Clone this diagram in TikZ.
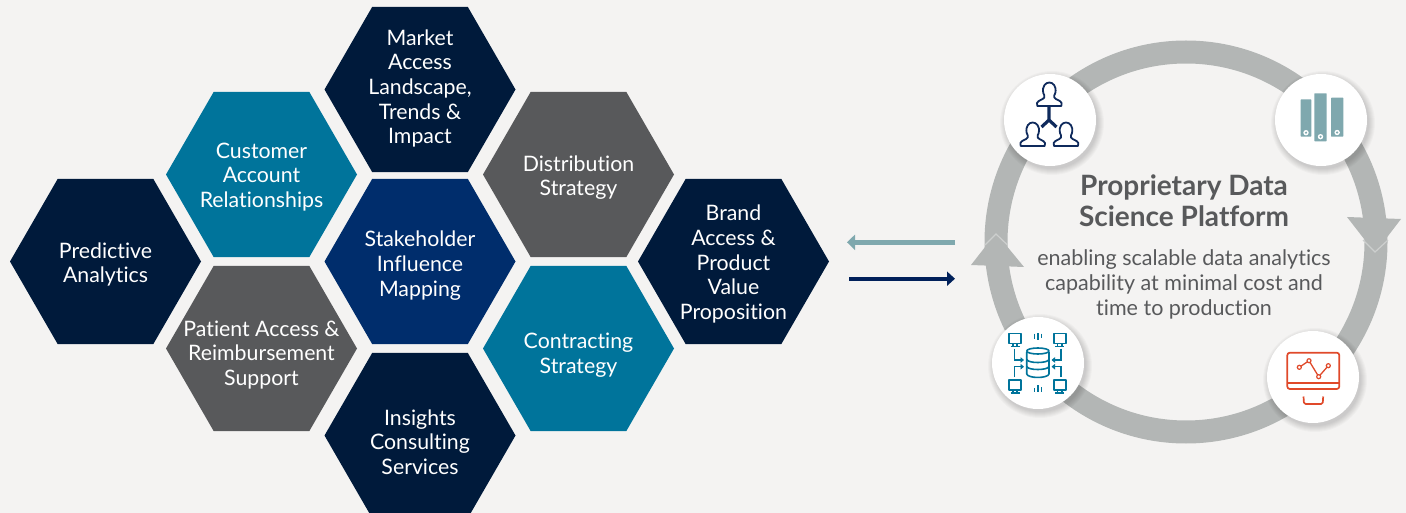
\documentclass[tikz,border=0pt]{standalone}
\usepackage{fontspec}
\setmainfont{Lato}[Ligatures=CommonOff]
\usetikzlibrary{shapes.geometric,arrows.meta}
\definecolor{bgc}{HTML}{F4F3F2}
\definecolor{navy}{HTML}{001A3B}
\definecolor{midblue}{HTML}{002D6C}
\definecolor{arrownavy}{HTML}{00205A}
\definecolor{tealc}{HTML}{00749B}
\definecolor{greyc}{HTML}{58595B}
\definecolor{ringc}{HTML}{B3B6B5}
\definecolor{ringl}{HTML}{CDCFCE}
\definecolor{paleteal}{HTML}{7FA8AE}
\definecolor{iconnavy}{HTML}{0F2A5C}
\definecolor{iconred}{HTML}{E0492A}
\definecolor{textgrey}{HTML}{58595B}
\tikzset{
  hexa/.style={regular polygon,regular polygon sides=6,minimum size=191pt,inner sep=0pt,outer sep=0pt},
  hextext/.style={text=white,font=\fontsize{21.3}{24.7}\selectfont,align=center,inner sep=0pt},
  disc/.style={circle,fill=white,minimum size=92pt,inner sep=0pt,outer sep=0pt},
  shade1/.style={fill=black,opacity=.022},
  title/.style={text=textgrey,font=\fontsize{28}{31}\selectfont\bfseries,align=center,inner sep=0pt},
  body/.style={text=textgrey,font=\fontsize{21.5}{24.8}\selectfont,align=center,inner sep=0pt},
  person/.style={draw=iconnavy,line width=1.8pt,line join=round,fill=white},
  dbline/.style={draw=tealc,line width=1.6pt,line join=round},
  redline/.style={draw=iconred,line width=1.7pt,line join=round}
}
\newcommand{\personicon}[2]{%
  \path[person,shift={(#1,#2)}] (-12,0) -- (12,0) -- (12.3,-3) .. controls (11,-6) and (6.5,-6) .. (5,-8.5)
   .. controls (4.6,-10) and (5,-11) .. (6,-13) .. controls (7.5,-20) and (3.5,-23.5) .. (0,-23.5)
   .. controls (-3.5,-23.5) and (-7.5,-20) .. (-6,-13) .. controls (-5,-11) and (-4.6,-10) .. (-5,-8.5)
   .. controls (-6.5,-6) and (-11,-6) .. (-12.3,-3) -- cycle;}
\newcommand{\bookicon}[5]{%
  \fill[paleteal,rounded corners=.6pt] (#1,#2) rectangle (#3,#4);
  \fill[white] ({(#1+#3)/2},#5) circle (2.7pt);
  \fill[paleteal] ({(#1+#3)/2},#5) circle (1.2pt);}
\newcommand{\screenicon}[2]{%
  \path[dbline,shift={(#1,#2)}] (-6,-5) rectangle (6,5);
  \path[dbline,shift={(#1,#2)}] (-2.2,5) -- (-2.2,8) (2.2,5) -- (2.2,8) (-4.5,8) -- (4.5,8);}
\begin{document}
\begin{tikzpicture}[x=1pt,y=-1pt]
\useasboundingbox (0,0) rectangle (1406,513);
\clip (0,0) rectangle (1406,513);
\fill[bgc] (0,0) rectangle (1406,513);

% hexagons
\node[hexa,fill=navy,label={[hextext,yshift=-3pt]center:Predictive\\Analytics}] (predictive) at (105.5,261.5) {};
\node[hexa,fill=tealc,label={[hextext,yshift=-2.5pt]center:Customer\\Account\\Relationships}] (customer) at (261.5,174.5) {};
\node[hexa,fill=greyc,label={[hextext,yshift=-6.5pt]center:Patient Access \&\\Reimbursement\\Support}] (patient) at (261.5,348.5) {};
\node[hexa,fill=navy,label={[hextext,yshift=1pt]center:Market\\Access\\Landscape,\\Trends \&\\Impact}] (market) at (420,89.5) {};
\node[hexa,fill=midblue,label={[hextext,yshift=-4pt]center:Stakeholder\\Influence\\Mapping}] (stakeholder) at (420,261.5) {};
\node[hexa,fill=navy,label={[hextext,yshift=-6.5pt]center:Insights\\Consulting\\Services}] (insights) at (420,435.5) {};
\node[hexa,fill=greyc,label={[hextext,yshift=-3pt]center:Distribution\\Strategy}] (distribution) at (578.5,174.5) {};
\node[hexa,fill=tealc,label={[hextext,yshift=-7pt]center:Contracting\\Strategy}] (contracting) at (578.5,348.5) {};
\node[hexa,fill=navy,label={[hextext,yshift=-2.5pt]center:Brand\\Access \&\\Product\\Value\\Proposition}] (brand) at (733.5,261.5) {};

% arrows between the two halves
\coordinate (tealstart) at (955,242.3);
\coordinate (tealend) at (847,242.3);
\coordinate (navystart) at (849,278.7);
\coordinate (navyend) at (955,278.7);
\draw[paleteal,line width=5pt,-{Triangle[length=8pt,width=15pt]}] (tealstart) -- (tealend);
\draw[arrownavy,line width=4pt,-{Triangle[length=8pt,width=14pt]}] (navystart) -- (navyend);

% ring
\coordinate (ringcentre) at (1186,242);
\draw[ringc,line width=23pt] (ringcentre) circle (190pt);
\fill[ringc] (1347,217) -- (1401,219) -- (1375,253) -- cycle;
\fill[ringc] (971,265) -- (996,233) -- (1024,267) -- cycle;
\draw[ringl,line width=1.2pt] (1363,240) -- (1375,252) -- (1388,240);
\draw[ringl,line width=1.2pt] (985,245) -- (996,234) -- (1007.5,245);

% discs with soft shadows
\foreach \cx/\cy in {1050/120,1321/120,1038/363,1313/377}{
  \foreach \r in {52,51,50,49,48,47,46}{
    \fill[shade1] (\cx+2,\cy+3) circle (\r pt);
  }
}
\node[disc] (people) at (1050,120) {};
\node[disc] (books) at (1321,120) {};
\node[disc] (database) at (1038,363) {};
\node[disc] (monitor) at (1313,377) {};

% people icon
\personicon{1049.3}{106}
\personicon{1032.7}{146}
\personicon{1066}{146}
\draw[iconnavy,line width=3.2pt] (1049,107) -- (1049,120) (1041.5,127) -- (1049,120) -- (1056.5,127);

% books icon
\bookicon{1300.7}{99.3}{1311.3}{136.7}{132.7}
\bookicon{1314.3}{93.3}{1326.7}{141.3}{136.7}
\bookicon{1331}{97.7}{1343.3}{136.7}{132.5}

% monitor icon
\path[redline,rounded corners=2.5pt] (1287.3,352.7) rectangle (1339.3,389);
\path[redline] (1287.3,383.3) -- (1339.3,383.3);
\path[redline,rounded corners=1.5pt] (1303.5,396.5) -- (1304,404) -- (1322.7,404) -- (1323.2,396.5);
\path[draw=iconred,line width=1.3pt] (1299.3,367.3) -- (1309,360.7) -- (1318.7,376.7) -- (1328.3,365.7);
\foreach \px/\py in {1299.3/367.3,1309/360.7,1318.7/376.7,1328.3/365.7}{
  \path[draw=iconred,fill=white,line width=1.2pt] (\px,\py) circle (2pt);
}

% database icon
\path[dbline] (1026.7,352) -- (1026.7,374) .. controls (1028,378.6) and (1047.7,378.6) .. (1049,374) -- (1049,352);
\path[dbline] (1037.85,351) ellipse (11.15pt and 3pt);
\path[dbline] (1026.7,359.5) .. controls (1028,363.5) and (1047.7,363.5) .. (1049,359.5);
\path[dbline] (1026.7,366.5) .. controls (1028,370.5) and (1047.7,370.5) .. (1049,366.5);
\screenicon{1015}{338.3}
\screenicon{1059.7}{338.3}
\screenicon{1015}{384.7}
\screenicon{1059.7}{384.7}
\draw[tealc,line width=1.5pt,-{Triangle[length=3.5pt,width=5.5pt]}] (1014.3,348.5) -- (1014.3,360) -- (1024,360);
\draw[tealc,line width=1.5pt,-{Triangle[length=3.5pt,width=5.5pt]}] (1014.3,377) -- (1014.3,366.7) -- (1024,366.7);
\draw[tealc,line width=1.5pt,-{Triangle[length=3.5pt,width=5.5pt]}] (1061,348.5) -- (1061,360) -- (1051.5,360);
\draw[tealc,line width=1.5pt,-{Triangle[length=3.5pt,width=5.5pt]}] (1061,377) -- (1061,366.7) -- (1051.5,366.7);
\draw[tealc,line width=1.5pt] (1034.5,333.5) -- (1034.5,338.5) (1038,333) -- (1038,340) (1041.7,333.5) -- (1041.7,337.5);
\draw[tealc,line width=1.5pt] (1034.5,391.5) -- (1034.5,387.5) (1038,391.5) -- (1038,385) (1041.7,391.5) -- (1041.7,387);

% platform text
\node[title] (platformtitle) at (1184,201) {Proprietary Data\\Science Platform};
\node[body] (platformbody) at (1184,284.5) {enabling scalable data analytics\\capability at minimal cost and\\time to production};
\end{tikzpicture}
\end{document}
